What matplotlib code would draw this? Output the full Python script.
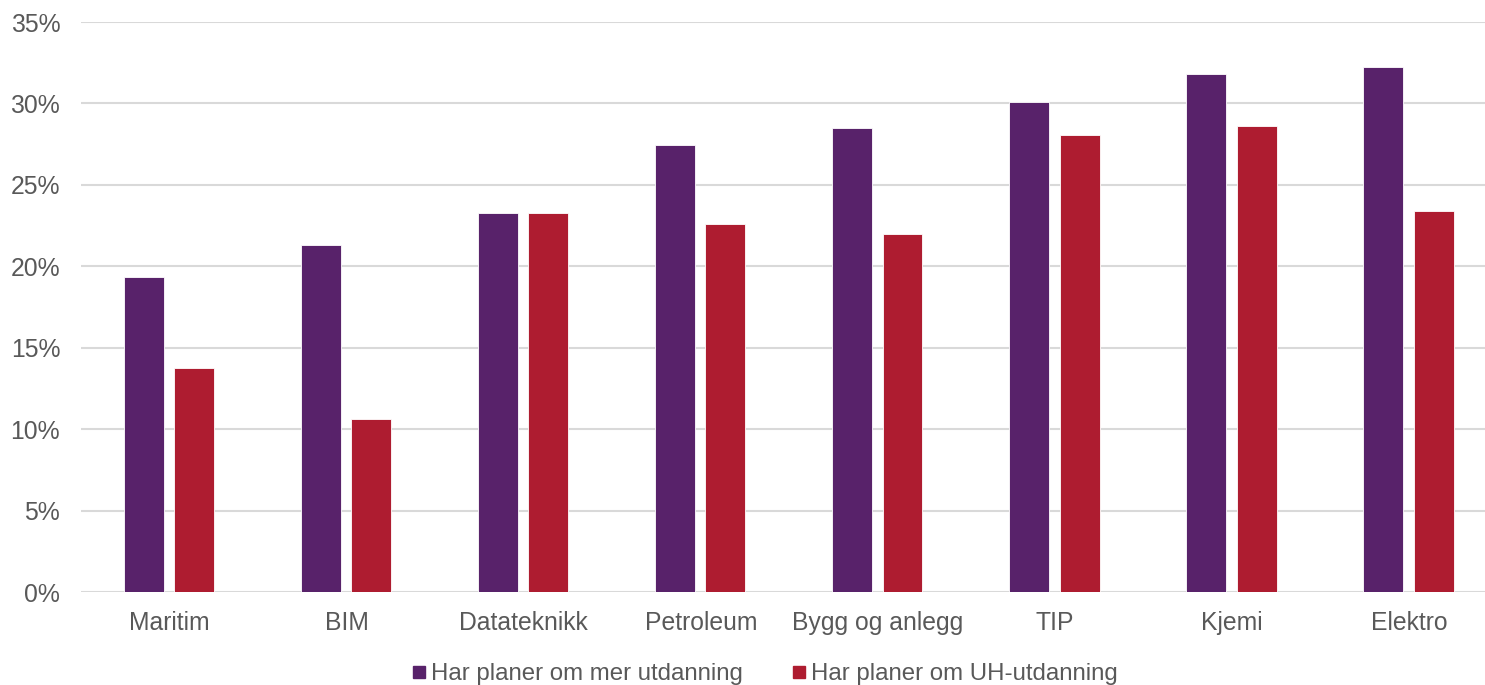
import numpy as np
import matplotlib.pyplot as plt
from matplotlib.lines import Line2D

plt.rcParams['font.family'] = ['Liberation Sans', 'DejaVu Sans']

# data
kategorier = ['Maritim', 'BIM', 'Datateknikk', 'Petroleum', 'Bygg og anlegg', 'TIP', 'Kjemi', 'Elektro']
mer_utdanning = [19.35, 21.3, 23.25, 27.45, 28.5, 30.08, 31.78, 32.25]
uh_utdanning = [13.75, 10.62, 23.25, 22.6, 21.98, 28.05, 28.6, 23.38]
serie_navn = ['Har planer om mer utdanning', 'Har planer om UH-utdanning']
farger = ['#58226a', '#ae1c30']
tekstfarge = '#595959'

fig = plt.figure(figsize=(14.85, 6.85), dpi=100)
ax = fig.add_axes([81 / 1485, 1 - 592 / 685, 1 - 81 / 1485, (592 - 22) / 685])

x = np.arange(len(kategorier))
bredde = 0.2257
ax.bar(x - 0.1465, mer_utdanning, width=bredde, color=farger[0], edgecolor='white', linewidth=0.6, zorder=3)
ax.bar(x + 0.1380, uh_utdanning, width=bredde, color=farger[1], edgecolor='white', linewidth=0.6, zorder=3)

ax.set_xlim(-0.5, 7.5 - 13 / 177.2)
ax.set_ylim(0, 35)
ax.set_yticks(np.arange(0, 36, 5))
ax.set_yticklabels([f'{v}%' for v in range(0, 36, 5)])
ax.set_xticks(x)
ax.set_xticklabels(kategorier)
ax.yaxis.grid(True, color='#d9d9d9', linewidth=1.5, zorder=0)
ax.set_axisbelow(True)
for s in ax.spines.values():
    s.set_visible(False)
ax.tick_params(axis='both', length=0, labelsize=17.8, colors=tekstfarge)
ax.tick_params(axis='y', pad=15)
ax.tick_params(axis='x', pad=14)

handles = [Line2D([], [], marker='s', linestyle='none', markersize=9, color=c) for c in farger]
leg = fig.legend(handles, serie_navn, loc='center', bbox_to_anchor=(0.515, 1 - 674 / 685), ncol=2,
                 frameon=False, fontsize=17.3, handlelength=0.6, handletextpad=0.2, columnspacing=2.0,
                 borderpad=0)
for t in leg.get_texts():
    t.set_color(tekstfarge)

fig.savefig('out.png', dpi=100)
